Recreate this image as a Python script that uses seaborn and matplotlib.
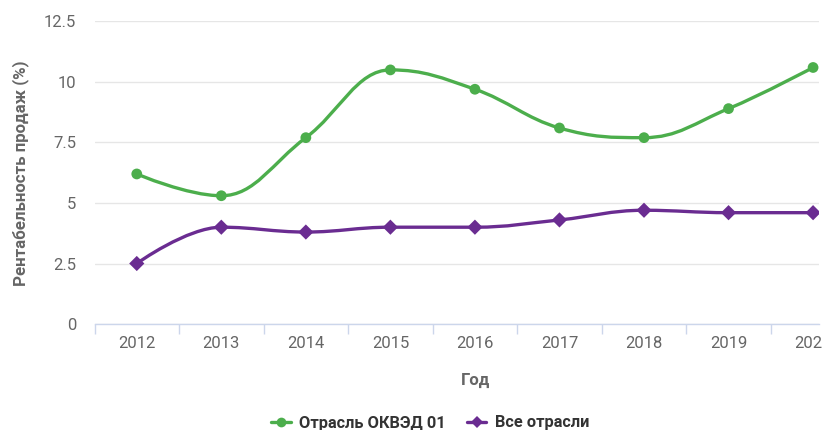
import matplotlib
matplotlib.use('Agg')
import matplotlib.pyplot as plt
from matplotlib.path import Path
from matplotlib.patches import PathPatch
from matplotlib.lines import Line2D
import numpy as np
import pandas as pd
import seaborn as sns

# Data
years = ['2012', '2013', '2014', '2015', '2016', '2017', '2018', '2019', '2020']
okved01 = [6.2, 5.3, 7.7, 10.5, 9.7, 8.1, 7.7, 8.9, 10.6]
all_sectors = [2.5, 4.0, 3.8, 4.0, 4.0, 4.3, 4.7, 4.6, 4.6]
series_names = ['Отрасль ОКВЭД 01', 'Все отрасли']
y_ticks = [0, 2.5, 5, 7.5, 10, 12.5]
y_tick_labels = ['0', '2.5', '5', '7.5', '10', '12.5']

colors = ['#4cae4c', '#6a2c91']
markers = ['o', 'D']

df = pd.DataFrame({
    'pos': list(range(len(years))) * 2,
    'value': okved01 + all_sectors,
    'series': [series_names[0]] * len(years) + [series_names[1]] * len(years),
})


def spline_path(xs, ys, smoothing=1.5):
    # Bezier control points the way Highcharts builds its "spline" series
    n = len(xs)
    left = [None] * n
    right = [None] * n
    d = smoothing + 1
    for i in range(1, n - 1):
        x, y = xs[i], ys[i]
        lx, ly = xs[i - 1], ys[i - 1]
        nx, ny = xs[i + 1], ys[i + 1]
        lcx, lcy = (smoothing * x + lx) / d, (smoothing * y + ly) / d
        rcx, rcy = (smoothing * x + nx) / d, (smoothing * y + ny) / d
        corr = (rcy - lcy) * (rcx - x) / (rcx - lcx) + y - rcy
        lcy += corr
        rcy += corr
        if lcy > ly and lcy > y:
            lcy = max(ly, y); rcy = 2 * y - lcy
        elif lcy < ly and lcy < y:
            lcy = min(ly, y); rcy = 2 * y - lcy
        if rcy > ny and rcy > y:
            rcy = max(ny, y); lcy = 2 * y - rcy
        elif rcy < ny and rcy < y:
            rcy = min(ny, y); lcy = 2 * y - rcy
        left[i] = (lcx, lcy)
        right[i] = (rcx, rcy)
    verts = [(xs[0], ys[0])]
    codes = [Path.MOVETO]
    for i in range(1, n):
        verts += [right[i - 1] or (xs[i - 1], ys[i - 1]), left[i] or (xs[i], ys[i]), (xs[i], ys[i])]
        codes += [Path.CURVE4] * 3
    return Path(verts, codes)


sns.set_style('white')
plt.rcParams['font.family'] = ['Roboto', 'DejaVu Sans']

W, H = 823, 430
fig = plt.figure(figsize=(W / 100, H / 100), dpi=100)
ax = fig.add_axes([94.5 / W, (H - 324) / H, (819 - 94.5) / W, (324 - 21.5) / H])

# smooth lines
for name, col in zip(series_names, colors):
    sub = df[df.series == name]
    p = spline_path(list(sub.pos), list(sub.value))
    ax.add_patch(PathPatch(p, facecolor='none', edgecolor=col, lw=2.4, capstyle='round', joinstyle='round', zorder=3))

# markers
sns.scatterplot(data=df, x='pos', y='value', hue='series', style='series', palette=colors,
                markers=markers, s=60, linewidth=0, legend=False, ax=ax, zorder=4)

ax.set_yticks(y_ticks)
ax.set_yticklabels(y_tick_labels)
ax.set_xticks(range(len(years)))
ax.set_xticklabels(years)
ax.set_xticks(np.arange(-0.5, len(years) - 1, 1), minor=True)
ax.set_xlim(-0.5, 8.07)
ax.set_ylim(0, 12.5)

ax.yaxis.grid(True, color='#e6e6e6', lw=1)
ax.set_axisbelow(True)
for s in ['top', 'right', 'left']:
    ax.spines[s].set_visible(False)
ax.spines['bottom'].set_color('#ccd6eb')
ax.spines['bottom'].set_linewidth(1)

ax.tick_params(axis='x', which='major', length=0, pad=8.5, labelsize=12, labelcolor='#666666')
ax.tick_params(axis='x', which='minor', length=7.2, width=1, color='#ccd6eb', bottom=True)
ax.tick_params(axis='y', length=0, pad=13.3, labelsize=12, labelcolor='#666666')

ax.set_xlabel('')
ax.set_ylabel('Рентабельность продаж (%)', fontsize=12.2, fontweight='bold', color='#666666')
ax.yaxis.set_label_coords(-0.09, 0.5)
fig.text(476 / W, (H - 380) / H, 'Год', ha='center', va='center', fontsize=12,
         fontweight='bold', color='#666666')

handles = [Line2D([], [], color=c, lw=2.4, marker=m, markersize=7 if m == 'o' else 6,
                  markeredgewidth=0) for c, m in zip(colors, markers)]
fig.legend(handles, series_names, loc='center', bbox_to_anchor=(430 / W, (H - 423) / H), ncol=2,
           frameon=False, handlelength=1.2, handletextpad=0.5, columnspacing=1.3,
           prop={'weight': 'bold', 'size': 11.8}, labelcolor='#333333')

fig.savefig('out.png', dpi=100)
